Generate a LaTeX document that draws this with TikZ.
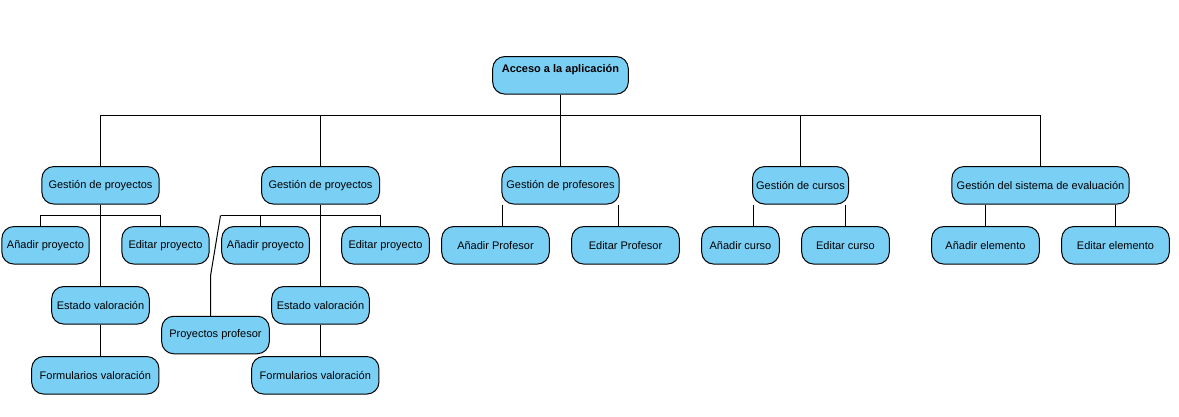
\documentclass[tikz,border=0pt]{standalone}
\usepackage{fontspec}
\setmainfont{Liberation Sans}
\definecolor{boxblue}{HTML}{7ACFF5}

\begin{document}
\begin{tikzpicture}[x=1pt, y=-1pt, line width=1pt,
    every node/.style={draw, fill=boxblue, rounded corners=12pt, minimum height=37.5pt,
        inner sep=0pt, font=\fontsize{11}{13}\selectfont}]
    \useasboundingbox (0, 0) rectangle (1179, 416);

    \node[minimum width=135.6pt] (root) at (560.5, 75.3) {\raisebox{6pt}[\height][\depth]{\textbf{Acceso a la aplicación}}};

    \node[minimum width=117.3pt] (g1) at (100.5, 185.3) {Gestión de proyectos};
    \node[minimum width=118pt] (g2) at (320.5, 185.3) {Gestión de proyectos};
    \node[minimum width=117.3pt] (g3) at (560.5, 185.3) {Gestión de profesores};
    \node[minimum width=96pt] (g4) at (800.5, 185.3) {Gestión de cursos};
    \node[minimum width=177.3pt] (g5) at (1040.5, 185.3) {Gestión del sistema de evaluación};

    \node[minimum width=87.3pt] (a1) at (45.5, 245.3) {Añadir proyecto};
    \node[minimum width=87.3pt] (ed1) at (165.5, 245.3) {Editar proyecto};
    \node[minimum width=87.6pt] (a2) at (265.5, 245.3) {Añadir proyecto};
    \node[minimum width=87.6pt] (ed2) at (385.5, 245.3) {Editar proyecto};
    \node[minimum width=107.6pt] (a3) at (495.5, 245.3) {Añadir Profesor};
    \node[minimum width=107.6pt] (ed3) at (625.5, 245.3) {Editar Profesor};
    \node[minimum width=77.6pt] (a4) at (740.5, 245.3) {Añadir curso};
    \node[minimum width=87.6pt] (ed4) at (845.5, 245.3) {Editar curso};
    \node[minimum width=107.6pt] (a5) at (985.5, 245.3) {Añadir elemento};
    \node[minimum width=107.6pt] (ed5) at (1115.5, 245.3) {Editar elemento};

    \node[minimum width=97.6pt] (e1) at (100.5, 305.3) {Estado valoración};
    \node[minimum width=97.6pt] (e2) at (320.5, 305.3) {Estado valoración};
    \node[minimum width=107.6pt] (pp) at (215.5, 335) {Proyectos profesor};
    \node[minimum width=127.3pt] (f1) at (95.3, 375.3) {Formularios valoración};
    \node[minimum width=127.3pt] (f2) at (315.3, 375.3) {Formularios valoración};

    \coordinate (bus) at (560.5, 115.5);
    \coordinate (g1bus) at (100.5, 215.5);
    \coordinate (g2left) at (220.5, 215.5);
    \coordinate (bend) at (210.5, 276);

    % top level
    \draw (root) -- (bus);
    \draw (g1) |- (bus) -| (g5);
    \draw (g2) -- (g2 |- bus);
    \draw (g3) -- (bus);
    \draw (g4) -- (g4 |- bus);

    % first group
    \draw ([xshift=-5pt]a1.north) |- (g1bus) -| ([xshift=-5pt]ed1.north);
    \draw (g1) -- (e1);
    \draw (e1) -- (e1 |- f1.north);

    % second group
    \draw (g2left) -| ([xshift=-5pt]ed2.north);
    \draw ([xshift=-5pt]a2.north) -- ([xshift=-5pt]a2.north |- g2left);
    \draw (g2left) -- (bend) -- (bend |- pp.north);
    \draw (g2) -- (g2 |- e2.north);
    \draw (e2) -- (e2 |- f2.north);

    % the other groups
    \draw ([xshift=-58pt]g3.south) -- ([xshift=7pt]a3.north);
    \draw ([xshift=58pt]g3.south) -- ([xshift=-7pt]ed3.north);
    \draw ([xshift=-47pt]g4.south) -- ([xshift=13pt]a4.north);
    \draw ([xshift=45pt]g4.south) -- (ed4.north);
    \draw (a5) -- (a5 |- g5.south);
    \draw (ed5) -- (ed5 |- g5.south);
\end{tikzpicture}
\end{document}
